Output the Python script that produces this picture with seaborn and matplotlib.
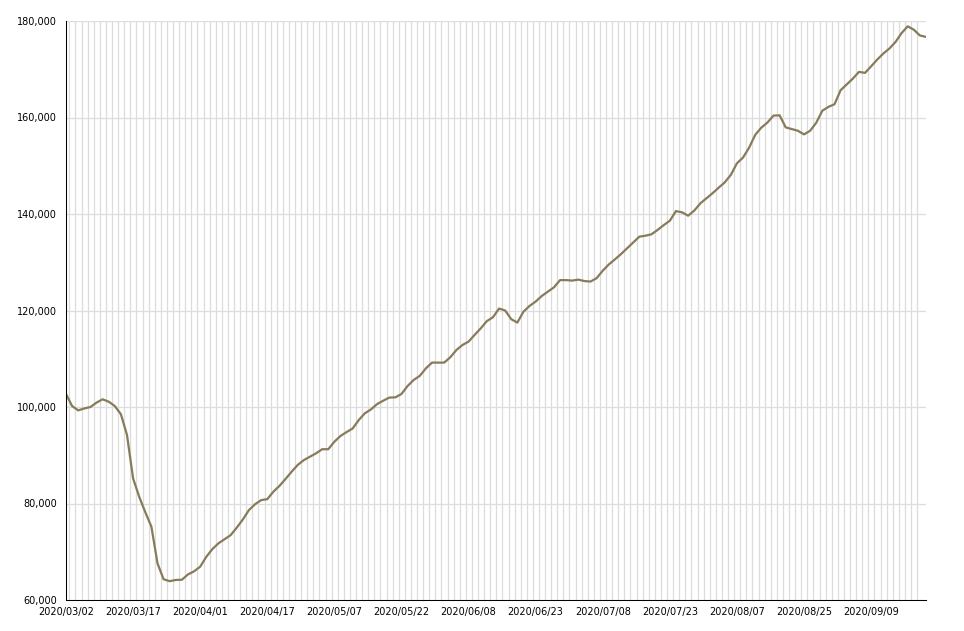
import pandas as pd
import numpy as np
import matplotlib
matplotlib.use("Agg")
import matplotlib.pyplot as plt
import seaborn as sns
from matplotlib.ticker import FuncFormatter, FixedLocator


# ---------------- DATA ----------------
start_date = "2020-03-02"
end_date = "2020-09-22"
# market closed days (KRX) inside the range
holidays = ["2020-04-15", "2020-04-30", "2020-05-01", "2020-05-05", "2020-08-17"]

values = [
    102700, 100200, 99300, 99700, 100000, 100900, 101600, 101100, 100200, 98500,
    94200, 85200, 81400, 78200, 75200, 67600, 64300, 63900, 64150, 64200,
    65300, 65950, 66900, 68950, 70550, 71750, 72600, 73450, 75000, 76700,
    78650, 79850, 80700, 80900, 82450, 83650, 85100, 86600, 88000, 89000,
    89700, 90400, 91250, 91250, 92800, 94000, 94800, 95550, 97300, 98700,
    99500, 100600, 101300, 101950, 102000, 102700, 104350, 105600, 106450, 108000,
    109200, 109200, 109200, 110300, 111800, 112850, 113550, 114950, 116300, 117800,
    118600, 120400, 120000, 118200, 117500, 119750, 120950, 121850, 123000, 123900,
    124800, 126300, 126300, 126200, 126400, 126100, 126000, 126700, 128250, 129550,
    130600, 131700, 132900, 134100, 135300, 135500, 135800, 136700, 137700, 138600,
    140600, 140350, 139650, 140700, 142200, 143250, 144300, 145450, 146550, 148100,
    150500, 151700, 153750, 156400, 157900, 158950, 160400, 160450, 157950, 157600,
    157250, 156500, 157250, 158900, 161400, 162200, 162750, 165650, 166850, 168050,
    169450, 169250, 170600, 172000, 173250, 174300, 175650, 177500, 178900, 178200,
    177000, 176700,
]

y_ticks = [60000, 80000, 100000, 120000, 140000, 160000, 180000]
label_step = 11


# ---------------- BUILD FRAME ----------------
dates = pd.bdate_range(start_date, end_date, freq="C", holidays=holidays)
dates = dates[:len(values)]
df = pd.DataFrame({"idx": np.arange(len(values)), "date": dates, "value": values})
tick_labels = df["date"].dt.strftime("%Y/%m/%d").tolist()


# ---------------- STYLE ----------------
sns.set_style("white")
plt.rcParams["font.family"] = ["DejaVu Sans"]
plt.rcParams["font.size"] = 7


# ---------------- PLOT ----------------
fig = plt.figure(figsize=(9.64, 6.31), dpi=100)
ax = fig.add_axes([66 / 964, 31 / 631, 860 / 964, 579 / 631])

sns.lineplot(data=df, x="idx", y="value", color="#867b5a", linewidth=1.6, ax=ax)

ax.set_xlim(0, len(values) - 1)
ax.set_ylim(y_ticks[0], y_ticks[-1])
ax.set_xlabel("")
ax.set_ylabel("")

# y axis
ax.set_yticks(y_ticks)
ax.yaxis.set_major_formatter(FuncFormatter(lambda v, p: f"{int(v):,}"))
ax.tick_params(axis="y", length=4.3, width=0.75, color="black", pad=2,
               labelsize=7, labelcolor="black")
ax.yaxis.grid(True, color="#dddddd", linewidth=0.9)

# x axis: label every 11th point, thin grid at every point
major = list(range(0, len(values), label_step))
ax.xaxis.set_major_locator(FixedLocator(major))
ax.set_xticklabels([tick_labels[i] for i in major])
ax.xaxis.set_minor_locator(FixedLocator([i + 0.55 for i in range(len(values) - 2)]))
ax.tick_params(axis="x", which="major", length=0, pad=5, labelsize=7,
               labelcolor="black")
ax.tick_params(axis="x", which="minor", length=3, width=0.75, color="#c5d2e3")
ax.xaxis.grid(True, which="minor", color="#dcdcdc", linewidth=0.9)
ax.xaxis.grid(False, which="major")
ax.set_axisbelow(True)

for side in ["top", "right"]:
    ax.spines[side].set_visible(False)
for side in ["left", "bottom"]:
    ax.spines[side].set_color("black")
    ax.spines[side].set_linewidth(0.75)

plt.savefig("out.png", dpi=100)
plt.close()
